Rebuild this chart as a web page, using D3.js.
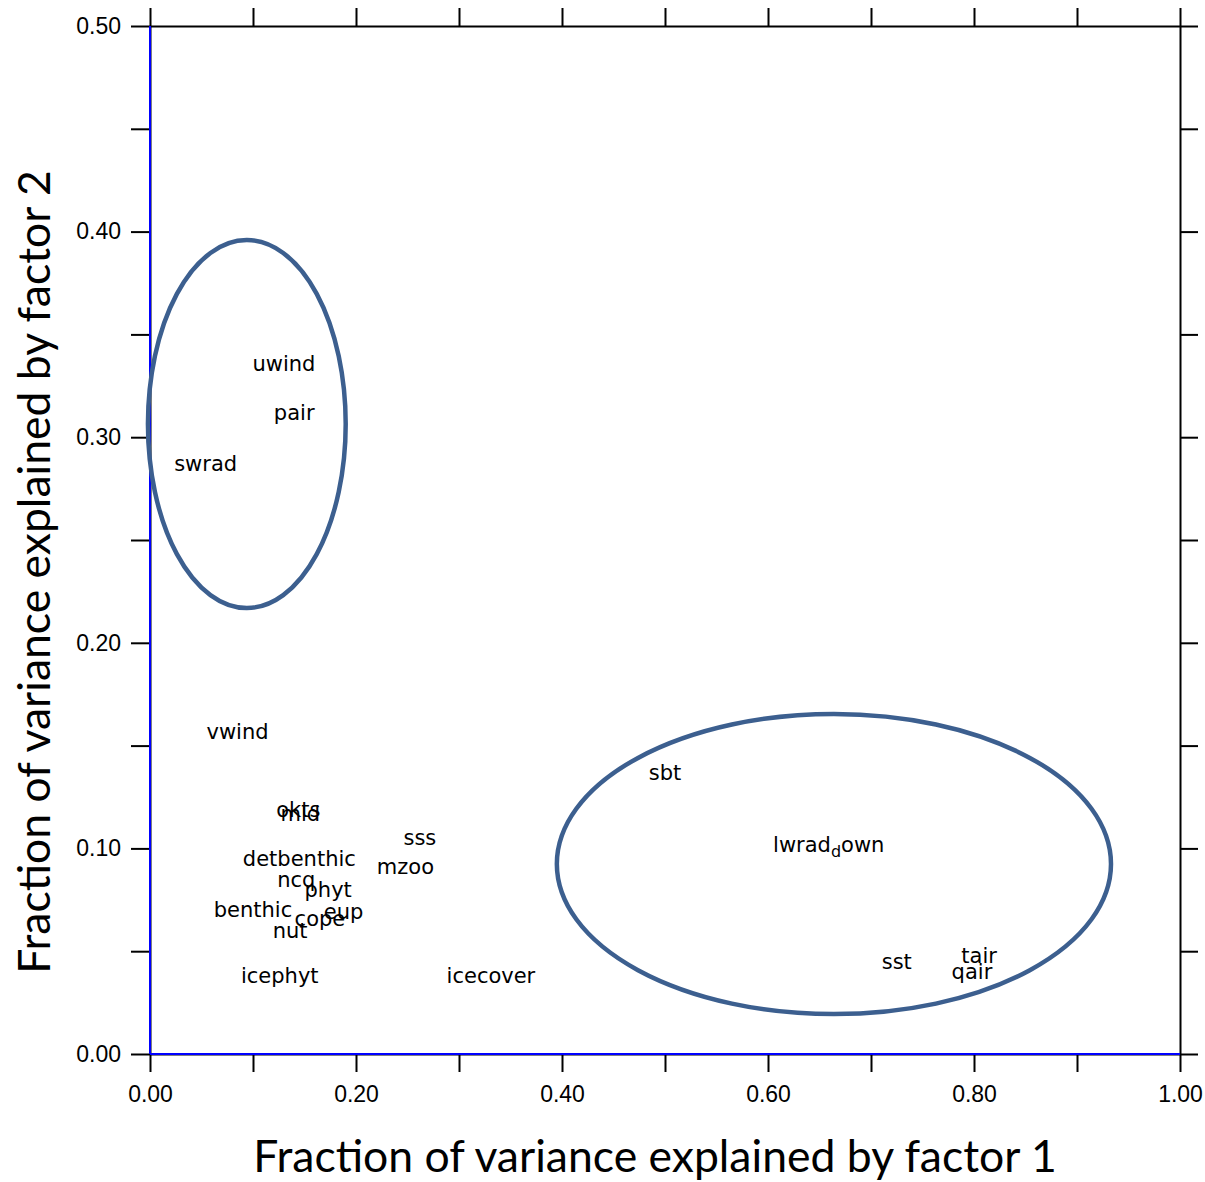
<!DOCTYPE html>
<html>
<head>
<meta charset="utf-8">
<script src="https://cdn.jsdelivr.net/npm/d3@7"></script>
<style>
  html, body { margin: 0; padding: 0; background: #fff; }
  svg { display: block; }
</style>
</head>
<body>
<svg id="chart" width="1205" height="1182"></svg>
<script>
// Variable names and their variance fractions on factor 1 (x) and factor 2 (y)
const variables = ["uwind", "pair", "swrad", "vwind", "okts", "mld", "sss", "detbenthic",
  "mzoo", "ncq", "phyt", "benthic", "eup", "cope", "nut", "icephyt", "icecover",
  "sbt", "lwrad_down", "sst", "tair", "qair"];
const factor1 = [0.130, 0.140, 0.054, 0.085, 0.144, 0.146, 0.262, 0.145,
  0.248, 0.142, 0.173, 0.100, 0.188, 0.165, 0.136, 0.126, 0.331,
  0.500, 0.659, 0.725, 0.805, 0.798];
const factor2 = [0.336, 0.312, 0.287, 0.157, 0.119, 0.117, 0.105, 0.095,
  0.091, 0.085, 0.080, 0.070, 0.069, 0.066, 0.060, 0.038, 0.038,
  0.137, 0.102, 0.045, 0.048, 0.040];

// Cluster outlines (centre and radii in data units)
const clusterCx = [0.094, 0.664];
const clusterCy = [0.3064, 0.0924];
const clusterRx = [0.096, 0.269];
const clusterRy = [0.0895, 0.073];

const xTicks = [0, 0.1, 0.2, 0.3, 0.4, 0.5, 0.6, 0.7, 0.8, 0.9, 1.0];
const yTicks = [0, 0.05, 0.1, 0.15, 0.2, 0.25, 0.3, 0.35, 0.4, 0.45, 0.5];

const xTitle = "Fraction of variance explained by factor 1";
const yTitle = "Fraction of variance explained by factor 2";

const plotLeft = 150, plotRight = 1180, plotTop = 26, plotBottom = 1054;

const svg = d3.select("#chart");
const x = d3.scaleLinear().domain([0, 1]).range([plotLeft, plotRight]);
const y = d3.scaleLinear().domain([0, 0.5]).range([plotBottom, plotTop]);

const fmt = d3.format(".2f");
const isMajorX = v => Math.abs(Math.round(v * 10) % 2) === 0;
const isMajorY = v => Math.abs(Math.round(v * 20) % 2) === 0;

function styleAxis(g) {
  g.select(".domain").attr("stroke", "#000").attr("stroke-width", 2);
  g.selectAll(".tick line").attr("stroke", "#000").attr("stroke-width", 2);
  g.selectAll(".tick text")
    .attr("fill", "#000")
    .style("font-family", "'Liberation Sans', Arial, sans-serif")
    .style("font-size", "23px");
}

// Bottom axis with labels on every other tick
svg.append("g")
  .attr("transform", `translate(0,${plotBottom})`)
  .call(d3.axisBottom(x).tickValues(xTicks).tickSize(18).tickPadding(14)
    .tickSizeOuter(0)
    .tickFormat(v => isMajorX(v) ? fmt(v) : ""))
  .call(styleAxis);

// Top axis, ticks only
svg.append("g")
  .attr("transform", `translate(0,${plotTop})`)
  .call(d3.axisTop(x).tickValues(xTicks).tickSize(18).tickSizeOuter(0).tickFormat(""))
  .call(styleAxis);

// Left axis with labels every 0.1
svg.append("g")
  .attr("transform", `translate(${plotLeft},0)`)
  .call(d3.axisLeft(y).tickValues(yTicks).tickSize(19).tickPadding(10)
    .tickSizeOuter(0)
    .tickFormat(v => isMajorY(v) ? fmt(v) : ""))
  .call(styleAxis);

// Right axis, ticks only
svg.append("g")
  .attr("transform", `translate(${plotRight},0)`)
  .call(d3.axisRight(y).tickValues(yTicks).tickSize(18).tickSizeOuter(0).tickFormat(""))
  .call(styleAxis);

// Zero reference lines
svg.append("line")
  .attr("x1", x(0)).attr("x2", x(0)).attr("y1", y(0)).attr("y2", y(0.5))
  .attr("stroke", "#0000ff").attr("stroke-width", 2);
svg.append("line")
  .attr("x1", x(0)).attr("x2", x(1)).attr("y1", y(0)).attr("y2", y(0))
  .attr("stroke", "#0000ff").attr("stroke-width", 2);

// Variable labels placed at their loadings
const labelFont = "'DejaVu Sans', 'Liberation Sans', sans-serif";
const labels = svg.append("g")
  .style("font-family", labelFont)
  .style("font-size", "21px")
  .attr("fill", "#000");

variables.forEach((name, i) => {
  const t = labels.append("text")
    .attr("x", x(factor1[i]))
    .attr("y", y(factor2[i]))
    .attr("dy", "0.35em")
    .attr("text-anchor", "middle");
  const parts = name.split("_");
  if (parts.length === 2) {
    t.append("tspan").text(parts[0]);
    t.append("tspan").text(parts[1][0])
      .style("font-size", "16px").attr("dy", "5");
    t.append("tspan").text(parts[1].slice(1)).attr("dy", "-5");
  } else {
    t.text(name);
  }
});

// Cluster ellipses
svg.append("g").selectAll("ellipse")
  .data(clusterCx)
  .join("ellipse")
  .attr("cx", d => x(d))
  .attr("cy", (d, i) => y(clusterCy[i]))
  .attr("rx", (d, i) => x(clusterRx[i]) - x(0))
  .attr("ry", (d, i) => y(0) - y(clusterRy[i]))
  .attr("fill", "none")
  .attr("stroke", "#3c5f8f")
  .attr("stroke-width", 4.5);

// Axis titles
svg.append("text")
  .attr("x", 655).attr("y", 1172)
  .attr("text-anchor", "middle")
  .style("font-family", "Lato, 'Open Sans', sans-serif")
  .style("font-size", "44.5px")
  .attr("fill", "#000")
  .text(xTitle);

svg.append("text")
  .attr("transform", "translate(50,572) rotate(-90)")
  .attr("text-anchor", "middle")
  .style("font-family", "Lato, 'Open Sans', sans-serif")
  .style("font-size", "44.5px")
  .attr("fill", "#000")
  .text(yTitle);
</script>
</body>
</html>
